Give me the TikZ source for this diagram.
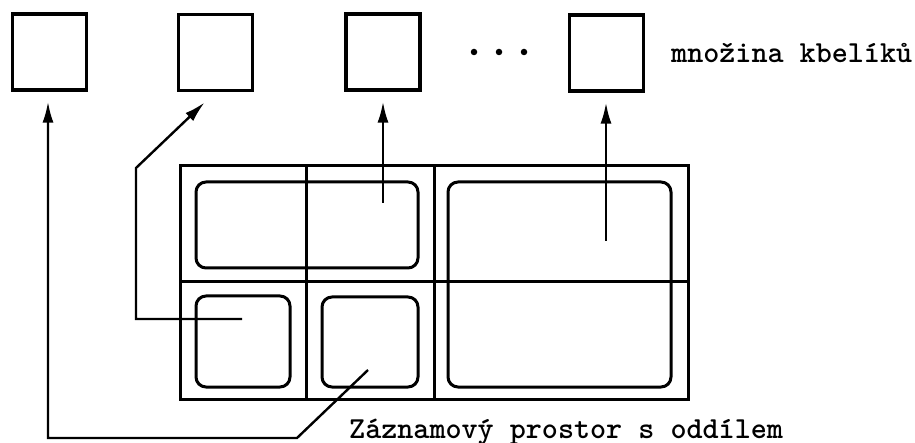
\documentclass[tikz,border=0pt]{standalone}
\usepackage{fontspec}
\usetikzlibrary{arrows.meta}
\begin{document}
\begin{tikzpicture}[x=1pt,y=-1pt,
  bucket/.style={draw,line width=3.2pt,minimum width=74pt,minimum height=76pt,inner sep=0pt},
  frame/.style={line width=3pt},
  rec/.style={line width=3pt,rounded corners=10pt},
  arr/.style={line width=2.4pt,-{Latex[length=21pt,width=11pt]}},
  lbl/.style={font=\ttfamily\bfseries\fontsize{30.6}{32}\selectfont,inner sep=0pt,anchor=base west},
  dotm/.style={circle,fill,inner sep=0pt,minimum size=6.5pt}]
\useasboundingbox (0,0) rectangle (915,443);
% buckets
\node[bucket] (b1) at (49.5,52) {};
\node[bucket] (b2) at (215.5,52.5) {};
\node[bucket] (b3) at (383,52) {};
\node[bucket] (b4) at (606.5,53) {};
\node[dotm] (d1) at (474,52) {};
\node[dotm] (d2) at (499,52) {};
\node[dotm] (d3) at (524,52) {};
\node[lbl] (t1) at (671,63) {množina kbelíků};
% storage area
\draw[frame] (180,166) rectangle (688,399);
\draw[frame] (306,166) -- (306,399);
\draw[frame] (434,166) -- (434,399);
\draw[frame] (180,282) -- (688,282);
\draw[rec] (196,182) rectangle (418,268);
\draw[rec] (196,296) rectangle (290,387);
\draw[rec] (322,297) rectangle (418,387);
\draw[rec] (448,182) rectangle (671,387);
\node[lbl] (t2) at (349,438) {Záznamový prostor s oddílem};
% anchor points
\coordinate (p1) at (368,370);
\coordinate (k1) at (297,438);
\coordinate (k2) at (48,438);
\coordinate (p2) at (242,319);
\coordinate (k3) at (136,319);
\coordinate (k4) at (136,168);
\coordinate (p3) at (383,203);
\coordinate (p4) at (606,241);
% arrows
\draw[arr,shorten >=10pt] (p1) -- (k1) -- (k2) -- (k2 |- b1.south);
\draw[arr,shorten >=15pt] (p2) -- (k3) -- (k4) -- (b2.south);
\draw[arr,shorten >=10pt] (p3) -- (b3.south);
\draw[arr,shorten >=10pt] (p4) -- (p4 |- b4.south);
\end{tikzpicture}
\end{document}
